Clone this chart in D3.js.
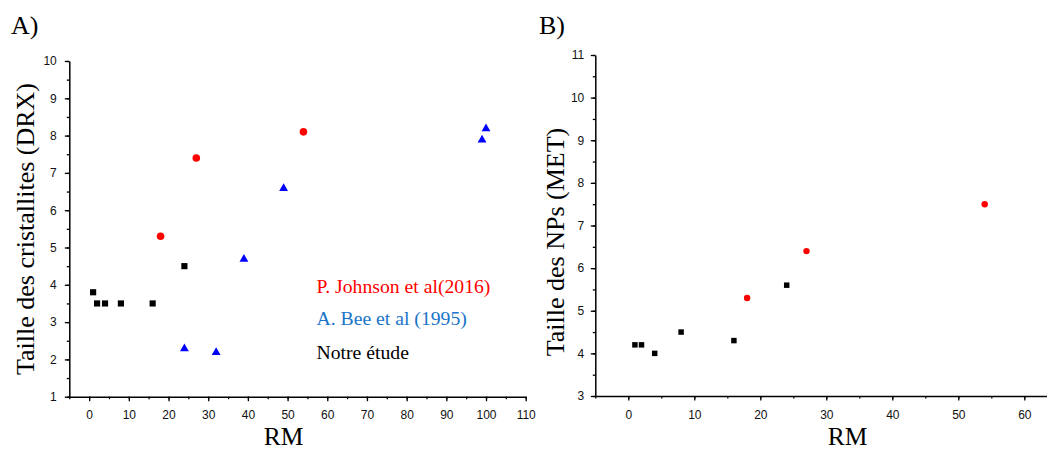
<!DOCTYPE html>
<html><head><meta charset="utf-8">
<script src="https://cdn.jsdelivr.net/npm/d3@7"></script>
<style>
html,body{margin:0;padding:0;background:#fff;}
svg{display:block;}
.tick text{font-family:"Liberation Sans",Arial,sans-serif;font-size:12px;fill:#111;}
</style>
</head><body>
<svg id="c" width="1047" height="450"></svg>
<script>
// Panel A data (DRX)
const oursA_x = [1, 2, 4, 8, 16, 24];
const oursA_y = [3.8, 3.5, 3.5, 3.5, 3.5, 4.5];
const johnsonA_x = [18, 27, 54];
const johnsonA_y = [5.3, 7.4, 8.1];
const beeA_x = [24, 32, 39, 49, 99, 100];
const beeA_y = [2.3, 2.2, 4.7, 6.6, 7.9, 8.2];
// Panel B data (MET)
const oursB_x = [1, 2, 4, 8, 16, 24];
const oursB_y = [4.2, 4.2, 4.0, 4.5, 4.3, 5.6];
const johnsonB_x = [18, 27, 54];
const johnsonB_y = [5.3, 6.4, 7.5];
// ticks
const xTicksA = [0,10,20,30,40,50,60,70,80,90,100,110];
const yTicksA = [1,2,3,4,5,6,7,8,9,10];
const xTicksB = [0,10,20,30,40,50,60];
const yTicksB = [3,4,5,6,7,8,9,10,11];
const legendLabels = ["P. Johnson et al(2016)", "A. Bee et al (1995)", "Notre étude"];

const SERIF = '"Liberation Serif","Times New Roman",Times,serif';
const svg = d3.select("#c");

function drawAxes(g, x, y, xMaj, xMin, yMaj, yMin, yLabPad){
  const ax = g.append("g").attr("transform",`translate(0,${y.range()[0]})`);
  ax.call(d3.axisBottom(x).tickValues(xMin).tickSize(2.5).tickFormat(""));
  ax.call(g2=>g2.select(".domain").remove());
  const ax2 = g.append("g").attr("transform",`translate(0,${y.range()[0]})`);
  ax2.call(d3.axisBottom(x).tickValues(xMaj).tickSize(4.5).tickSizeOuter(0).tickPadding(9.5).tickFormat(d3.format("d")));
  const ay = g.append("g").attr("transform",`translate(${x.range()[0]},0)`);
  ay.call(d3.axisLeft(y).tickValues(yMin).tickSize(2.5).tickFormat(""));
  ay.call(g2=>g2.select(".domain").remove());
  const ay2 = g.append("g").attr("transform",`translate(${x.range()[0]},0)`);
  ay2.call(d3.axisLeft(y).tickValues(yMaj).tickSize(4.5).tickSizeOuter(0).tickPadding(yLabPad).tickFormat(d3.format("d")));
  g.selectAll(".domain").attr("stroke","#000").attr("stroke-width",1.5);
  g.selectAll(".tick line").attr("stroke","#000").attr("stroke-width",1.3);
}

function label(g, txt, size, color){
  return g.append("text").style("font-family",SERIF).style("font-size",size+"px").style("fill",color).text(txt);
}

// ---- Panel A ----
const xA = d3.scaleLinear().domain([-5,110]).range([69.3,525.7]);
const yA = d3.scaleLinear().domain([1,10]).range([396.7,61]);
const gA = svg.append("g");
drawAxes(gA, xA, yA, xTicksA, d3.range(-5,111,5), yTicksA, d3.range(1,10.01,0.5), 8);

const sq = d3.symbol().type(d3.symbolSquare);
const tri = d3.symbol().type(d3.symbolTriangle);

gA.selectAll(".sqA").data(d3.zip(oursA_x, oursA_y)).join("path")
  .attr("d", sq.size(38)())
  .attr("transform", d=>`translate(${xA(d[0])},${yA(d[1])})`).attr("fill","#000");
gA.selectAll(".ciA").data(d3.zip(johnsonA_x, johnsonA_y)).join("circle")
  .attr("cx", d=>xA(d[0])).attr("cy", d=>yA(d[1])).attr("r",3.8).attr("fill","#ff0000");
gA.selectAll(".trA").data(d3.zip(beeA_x, beeA_y)).join("path")
  .attr("d", tri.size(34)())
  .attr("transform", d=>`translate(${xA(d[0])},${yA(d[1])+0.5})`).attr("fill","#0000ff");

// legend text
const legColors = ["#ff0000","#1a74c9","#000000"];
const legY = [293.3, 325.3, 359.3];
legendLabels.forEach((t,i)=>{
  label(gA, t, 19.7, legColors[i]).attr("x",316.5).attr("y",legY[i]);
});

label(gA,"RM",25.5,"#000").attr("x",283.5).attr("y",444.5).attr("text-anchor","middle");
label(gA,"Taille des cristallites (DRX)",26,"#000").attr("transform","translate(33.5,229) rotate(-90)")
  .attr("text-anchor","middle");
label(gA,"A)",26,"#000").attr("x",11).attr("y",34);

// ---- Panel B ----
const xB = d3.scaleLinear().domain([-5,63.5]).range([595.3,1047.4]);
const yB = d3.scaleLinear().domain([3,11]).range([396,55]);
const gB = svg.append("g");
drawAxes(gB, xB, yB, xTicksB, d3.range(-5,64,5), yTicksB, d3.range(3,11.01,0.5), 6.5);

gB.selectAll(".sqB").data(d3.zip(oursB_x, oursB_y)).join("path")
  .attr("d", sq.size(30)())
  .attr("transform", d=>`translate(${xB(d[0])},${yB(d[1])})`).attr("fill","#000");
gB.selectAll(".ciB").data(d3.zip(johnsonB_x, johnsonB_y)).join("circle")
  .attr("cx", d=>xB(d[0])).attr("cy", d=>yB(d[1])).attr("r",3.2).attr("fill","#ff0000");

label(gB,"RM",25.5,"#000").attr("x",847.5).attr("y",444.5).attr("text-anchor","middle");
label(gB,"Taille des NPs (MET)",26,"#000").attr("transform","translate(563.5,242) rotate(-90)")
  .attr("text-anchor","middle");
label(gB,"B)",26,"#000").attr("x",539).attr("y",34);
</script>
</body></html>
